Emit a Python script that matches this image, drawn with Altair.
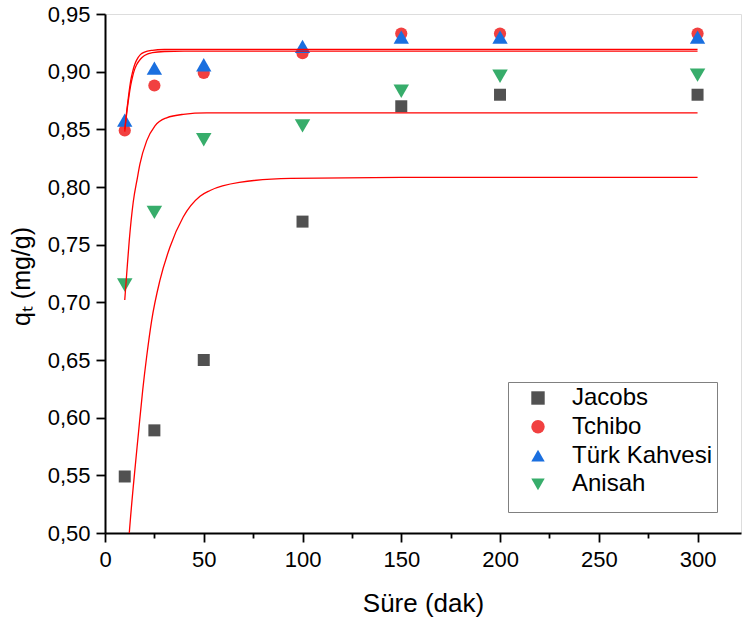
import altair as alt
import pandas as pd

series = ["Jacobs", "Tchibo", "Türk Kahvesi", "Anisah"]
colors = ["#515151", "#F14040", "#1A6FDF", "#37AD6B"]
shapes = ["square", "circle", "triangle-up", "triangle-down"]

t = [10, 25, 50, 100, 150, 200, 300]
jacobs = [0.549, 0.589, 0.650, 0.770, 0.870, 0.880, 0.880]
tchibo = [0.849, 0.888, 0.899, 0.916, 0.933, 0.933, 0.933]
turk = [0.858, 0.903, 0.906, 0.922, 0.930, 0.930, 0.930]
anisah = [0.715, 0.778, 0.841, 0.853, 0.883, 0.896, 0.897]

# fitted curves
fit_jacobs_t = [10, 12.3, 14.3, 16.9, 19.1, 21.1, 23.6, 27.8, 32.9, 39.6, 48.1, 53.2, 68, 94, 150, 300]
fit_jacobs_q = [0.44, 0.500, 0.540, 0.586, 0.624, 0.653, 0.684, 0.719, 0.748, 0.774, 0.792, 0.797, 0.804, 0.8075, 0.8084, 0.8084]
fit_anisah_t = [10, 11, 12.3, 14.3, 16.4, 17.7, 21.1, 25.3, 31.2, 39.6, 51.5, 100, 300]
fit_anisah_q = [0.702, 0.725, 0.754, 0.787, 0.808, 0.820, 0.840, 0.853, 0.860, 0.863, 0.8642, 0.8643, 0.8643]
fit_turk_t = [10, 11, 12, 13, 14, 15, 16, 18, 20, 24, 30, 40, 300]
fit_turk_q = [0.850, 0.866, 0.880, 0.892, 0.900, 0.906, 0.910, 0.915, 0.917, 0.9185, 0.9192, 0.9194, 0.9194]
fit_tchibo_t = [10, 11, 12, 13, 14, 15, 16, 18, 20, 24, 30, 40, 300]
fit_tchibo_q = [0.848, 0.864, 0.877, 0.888, 0.896, 0.902, 0.906, 0.911, 0.914, 0.9165, 0.9175, 0.9178, 0.9178]

x_ticks = [0, 25, 50, 75, 100, 125, 150, 175, 200, 225, 250, 275, 300]
y_ticks = [0.5, 0.525, 0.55, 0.575, 0.6, 0.625, 0.65, 0.675, 0.7, 0.725, 0.75,
           0.775, 0.8, 0.825, 0.85, 0.875, 0.9, 0.925, 0.95]

# ---- tables ----
rows = []
for name, vals in zip(series, [jacobs, tchibo, turk, anisah]):
    for ti, qi in zip(t, vals):
        rows.append({"t": ti, "q": qi, "series": name})
pts = pd.DataFrame(rows)

frows = []
for name, ts, qs in [("Jacobs", fit_jacobs_t, fit_jacobs_q),
                     ("Anisah", fit_anisah_t, fit_anisah_q),
                     ("Türk Kahvesi", fit_turk_t, fit_turk_q),
                     ("Tchibo", fit_tchibo_t, fit_tchibo_q)]:
    for ti, qi in zip(ts, qs):
        frows.append({"t": ti, "q": qi, "fit": name})
fits = pd.DataFrame(frows)

# size scale is a point scale (evenly spaced between two sizes); spacer slots
# push the two triangle series towards the large end
spacers = ["_s%d" % i for i in range(17)]
size_domain = ["Jacobs", "Tchibo"] + spacers + ["Türk Kahvesi", "Anisah"]

FONT = "Liberation Sans"

x_scale = alt.Scale(domain=[0, 322], nice=False, zero=False)
y_scale = alt.Scale(domain=[0.5, 0.95], nice=False, zero=False)

x_axis = alt.Axis(
    values=x_ticks,
    title="Süre (dak)",
    labelExpr="round(datum.value/25) % 2 == 0 ? datum.label : ''",
    tickSize={"condition": {"test": "round(datum.value/25) % 2 == 0", "value": 9}, "value": 5},
    labelFontSize=22, labelFont=FONT, labelPadding=7, labelColor="black",
    titleFontSize=26, titleFont=FONT, titleFontWeight="normal", titleColor="black",
    titleBaseline="alphabetic", titleY=78,
    grid=False, domainColor="black", domainWidth=2, tickColor="black", tickWidth=1.8,
    labelOverlap=False, labelFlush=False,
)
y_axis = alt.Axis(
    values=y_ticks,
    title="qₜ (mg/g)",
    labelExpr="round(datum.value*40) % 2 == 0 ? replace(format(datum.value, '.2f'), '.', ',') : ''",
    tickSize={"condition": {"test": "round(datum.value*40) % 2 == 0", "value": 9}, "value": 5},
    labelFontSize=22, labelFont=FONT, labelPadding=6, labelColor="black",
    titleFontSize=25, titleFont=FONT, titleFontWeight="normal", titleColor="black",
    titleAngle=270, titleAlign="center", titleBaseline="alphabetic", titleX=-76, titleY=262,
    grid=False, domainColor="black", domainWidth=2, tickColor="black", tickWidth=1.8,
    labelOverlap=False, labelFlush=False,
)

legend = alt.Legend(
    title=" ", titleOrient="bottom", titleFontSize=8, titlePadding=4,
    orient="none", legendX=403, legendY=368,
    padding=4, strokeColor="#808080", fillColor="white",
    labelFont=FONT, labelFontSize=24, labelColor="black",
    rowPadding=4.8, symbolOffset=14, labelOffset=22,
    symbolSize=180, symbolStrokeWidth=0,
)

points = alt.Chart(pts).mark_point(filled=True, opacity=1, strokeWidth=0).encode(
    x=alt.X("t:Q", scale=x_scale, axis=x_axis),
    y=alt.Y("q:Q", scale=y_scale, axis=y_axis),
    color=alt.Color("series:N", scale=alt.Scale(domain=series, range=colors), legend=legend),
    shape=alt.Shape("series:N", scale=alt.Scale(domain=series, range=shapes), legend=legend),
    size=alt.Size("series:N", scale=alt.Scale(type="point", domain=size_domain, range=[144, 240]), legend=None),
)

lines = alt.Chart(fits).mark_line(color="#FF0000", strokeWidth=1.3, interpolate="monotone", clip=True).encode(
    x="t:Q",
    y="q:Q",
    detail="fit:N",
)

chart = alt.layer(points, lines).properties(
    width=636, height=519,
    autosize=alt.AutoSizeParams(type="none"),
    padding={"left": 105, "top": 14, "right": 1, "bottom": 89},
).configure_view(stroke=None).configure(background="white")

chart.save("out.html", embed_options={"renderer": "svg", "actions": False})
